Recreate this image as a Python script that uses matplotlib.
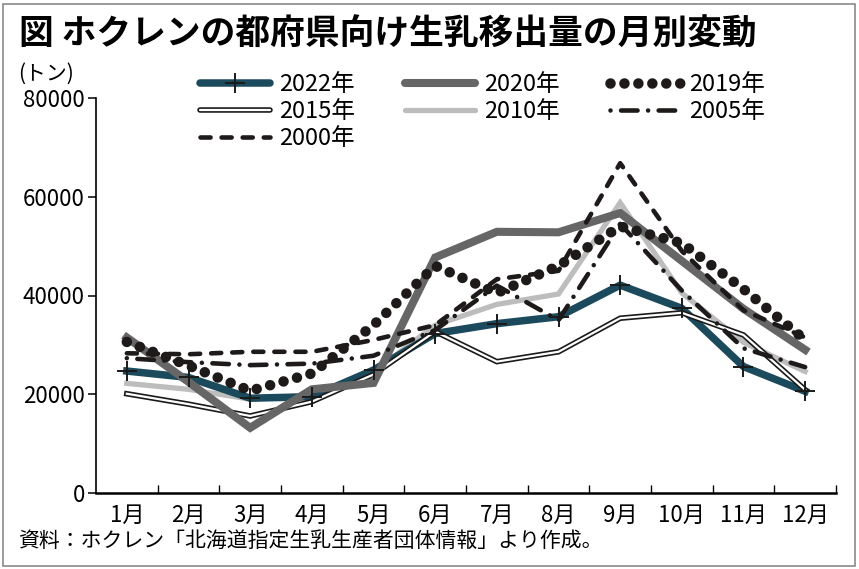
import matplotlib
matplotlib.use("Agg")
import matplotlib.pyplot as plt
import matplotlib.patheffects as pe
from matplotlib.lines import Line2D
from matplotlib.patches import Rectangle
from matplotlib import font_manager

# ---------------- data ----------------
months = ["1月", "2月", "3月", "4月", "5月", "6月", "7月", "8月", "9月", "10月", "11月", "12月"]
y2022 = [24700, 23400, 19200, 19500, 24900, 32300, 34300, 35700, 42100, 37400, 25600, 20600]
y2020 = [31500, 22500, 13200, 21000, 22300, 47700, 52900, 52800, 56700, 47000, 37300, 29000]
y2019 = [30600, 25800, 20700, 24200, 34000, 46000, 40500, 46000, 54000, 50600, 41300, 31000]
y2015 = [20100, 18000, 15600, 18500, 24000, 32700, 26600, 28600, 35400, 36500, 32000, 20900]
y2010 = [22200, 21000, 19000, 19800, 24500, 34000, 38200, 40300, 58800, 40500, 30500, 24600]
y2005 = [27300, 26500, 25900, 26200, 27800, 33000, 42000, 35000, 54500, 41000, 29300, 25500]
y2000 = [28300, 28100, 28600, 28600, 31000, 34000, 43300, 45000, 66800, 49000, 37000, 31500]
yticks = [0, 20000, 40000, 60000, 80000]

title = "図 ホクレンの都府県向け生乳移出量の月別変動"
unit = "(トン)"
source = "資料：ホクレン「北海道指定生乳生産者団体情報」より作成。"

# ---------------- fonts ----------------
names = {f.name for f in font_manager.fontManager.ttflist}
narrow = "Liberation Sans Narrow" in names
if narrow:
    fam = ["Liberation Sans Narrow", "Noto Sans CJK JP", "DejaVu Sans"]
    fs_tick, fs_leg, fs_month = 19, 19, 18
else:
    fam = ["Noto Sans CJK JP", "DejaVu Sans"]
    fs_tick, fs_leg, fs_month = 16, 17, 16
plt.rcParams["font.family"] = fam

fig = plt.figure(figsize=(8.59, 5.69), dpi=100)
ax = fig.add_axes([96 / 859, 76 / 569, 740 / 859, 395 / 569])

x = list(range(1, 13))
teal = "#1c4a5d"
blk = "#1e1a1a"
dbl = [pe.Stroke(linewidth=4.0, foreground="#1a1a1a"), pe.Normal()]

# draw order bottom -> top
ax.plot(x, y2010, color="#bdbdbd", lw=3.8, solid_joinstyle="miter", zorder=2)
ax.plot(x, y2022, color=teal, lw=5.4, solid_joinstyle="miter", zorder=3)
ax.plot(x, y2015, color="white", lw=1.6, solid_joinstyle="miter", zorder=4, path_effects=dbl)
ax.plot(x, y2020, color="#666666", lw=5.8, solid_joinstyle="miter", zorder=5)
ax.plot(x, y2019, color=blk, lw=7.6, linestyle=(0, (0.001, 1.32)),
        dash_capstyle="round", zorder=6)
ax.plot(x, y2005, color=blk, lw=3.3, linestyle=(0, (0.001, 2.3, 3.6, 2.3)),
        dash_capstyle="round", zorder=7)
ax.plot(x, y2000, color=blk, lw=3.3, linestyle=(0, (2.2, 2.4)),
        dash_capstyle="round", zorder=8)
ax.plot(x, y2022, linestyle="none", marker="+", color="#1a1a1a", ms=15, mew=1.4, zorder=9)

ax.set_xlim(0.5, 12.5)
ax.set_ylim(0, 80000)

for s in ["top", "right"]:
    ax.spines[s].set_visible(False)
ax.spines["left"].set_linewidth(1.2)
ax.spines["bottom"].set_linewidth(1.8)

ax.set_yticks(yticks)
ax.set_yticklabels([str(v) for v in yticks])
ax.tick_params(axis="y", direction="out", length=6, width=1.1, pad=2, labelsize=fs_tick)

ax.set_xticks([i + 0.5 for i in range(1, 13)])
ax.set_xticklabels([])
ax.tick_params(axis="x", which="major", direction="in", length=6, width=1.0)
ax.set_xticks(x, minor=True)
ax.set_xticklabels(months, minor=True)
ax.tick_params(axis="x", which="minor", length=0, pad=8, labelsize=fs_month)

# legend
h = {
    "2022年": Line2D([], [], color=teal, lw=5.4, marker="+", mec="#1a1a1a", ms=15, mew=1.4,
                     solid_capstyle="round"),
    "2020年": Line2D([], [], color="#666666", lw=5.8, solid_capstyle="round"),
    "2019年": Line2D([], [], color=blk, lw=7.6, linestyle=(0, (0.001, 1.32)),
                     dash_capstyle="round"),
    "2015年": Line2D([], [], color="white", lw=1.6, solid_capstyle="round", path_effects=dbl),
    "2010年": Line2D([], [], color="#bdbdbd", lw=3.8, solid_capstyle="round"),
    "2005年": Line2D([], [], color=blk, lw=3.3, linestyle=(0, (0.001, 2.3, 3.6, 2.3)),
                     dash_capstyle="round"),
    "2000年": Line2D([], [], color=blk, lw=3.3, linestyle=(0, (2.2, 2.4)),
                     dash_capstyle="round"),
}
order = ["2022年", "2015年", "2000年", "2020年", "2010年", "2019年", "2005年"]
em = fs_leg * 100 / 72
fig.legend([h[k] for k in order], order, loc="upper left",
           bbox_to_anchor=(200 / 859, 1 - 73 / 569), ncol=3, frameon=False,
           fontsize=fs_leg, borderpad=0, borderaxespad=0,
           handlelength=70 / em, handletextpad=9 / em, columnspacing=50 / em,
           labelspacing=0.17, handleheight=0.7)

fig.text(19 / 859, 1 - 34 / 569, title, fontsize=25, fontweight="bold",
         family=["Noto Sans CJK JP", "DejaVu Sans"], ha="left", va="center")
fig.text(18 / 859, 1 - 74 / 569, unit, fontsize=fs_tick - 1, ha="left", va="center")
fig.text(18 / 859, 1 - 541 / 569, source, fontsize=15,
         family=["Noto Sans CJK JP", "DejaVu Sans"], ha="left", va="center")

fig.patches.append(Rectangle((3 / 859, 3 / 569), 852 / 859, 562 / 569, transform=fig.transFigure,
                             fill=False, edgecolor="#8a8a8a", lw=1.2))

fig.savefig("out.png", dpi=100)
